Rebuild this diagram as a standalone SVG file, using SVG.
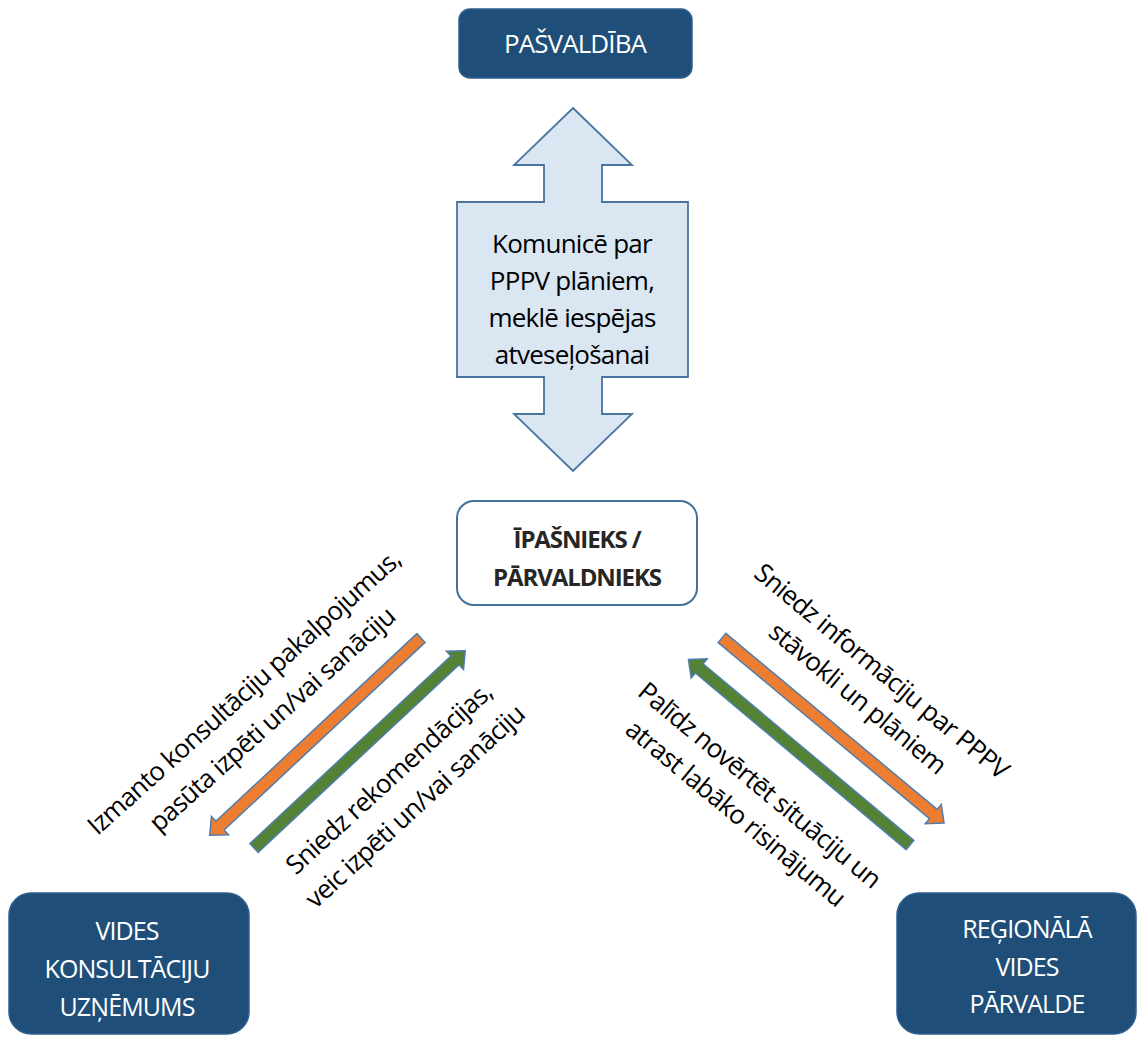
<svg xmlns="http://www.w3.org/2000/svg" xmlns:xlink="http://www.w3.org/1999/xlink" width="1138" height="1041" viewBox="0 0 1138 1041">
  <defs>
    <style>
      .dark { fill: #1F4E79; stroke: #2F5F8F; stroke-width: 1.5; }
      .light { fill: #FFFFFF; stroke: #41719C; stroke-width: 2; }
      .wtxt { font-family: "Open Sans", "Noto Sans", sans-serif; font-size: 25px; letter-spacing: -0.9px; fill: #FFFFFF; text-anchor: middle; }
      .btxt { font-family: "Open Sans", "Noto Sans", sans-serif; font-size: 24px; letter-spacing: -1.1px; font-weight: bold; fill: #262626; text-anchor: middle; }
      .ltxt { font-family: "Open Sans", "Noto Sans", sans-serif; font-size: 26px; letter-spacing: -0.75px; fill: #000000; text-anchor: middle; }
      .dbl { fill: #DAE6F2; stroke: #4A73A0; stroke-width: 1.8; stroke-linejoin: miter; }
      .orange { fill: #ED7D31; stroke: #4F7DAF; stroke-width: 1.5; }
      .green { fill: #548235; stroke: #4F7DAF; stroke-width: 1.5; }
    </style>
    <path id="arr" d="M0,-6 H275 V-12.5 L289,0 L275,12.5 V6 H0 Z"/>
  </defs>
  <rect width="1138" height="1041" fill="#FFFFFF"/>

  <g id="connectors">
    <g id="link-pasvaldiba">
      <path class="dbl" d="M573,108 L632,165 L602,165 L602,202 L688,202 L688,377 L602,377 L602,414 L632,414 L573,471 L514,414 L544,414 L544,377 L457,377 L457,202 L544,202 L544,165 L514,165 Z"/>
      <text class="ltxt" x="572" y="253">Komunicē par</text>
      <text class="ltxt" x="572" y="290">PPPV plāniem,</text>
      <text class="ltxt" x="572" y="327">meklē iespējas</text>
      <text class="ltxt" x="572" y="364">atveseļošanai</text>
    </g>
    <g id="link-konsult">
      <use xlink:href="#arr" href="#arr" class="orange" transform="translate(421,638) rotate(136.97)"/>
      <use xlink:href="#arr" href="#arr" class="green" transform="translate(254,848) rotate(-43.04)"/>
      <text class="ltxt" transform="translate(250,699) rotate(-42)">Izmanto konsultāciju pakalpojumus,</text>
      <text class="ltxt" transform="translate(278,726) rotate(-42)">pasūta izpēti un/vai sanāciju</text>
      <text class="ltxt" transform="translate(395,785) rotate(-42.5)">Sniedz rekomendācijas,</text>
      <text class="ltxt" transform="translate(421,813) rotate(-42.5)">veic izpēti un/vai sanāciju</text>
    </g>
    <g id="link-regionala">
      <use xlink:href="#arr" href="#arr" class="orange" transform="translate(722,638) rotate(39.8)"/>
      <use xlink:href="#arr" href="#arr" class="green" transform="translate(910,845) rotate(219.96)"/>
      <text class="ltxt" transform="translate(876,678) rotate(39.6)">Sniedz informāciju par PPPV</text>
      <text class="ltxt" transform="translate(852,705) rotate(39.6)">stāvokli un plāniem</text>
      <text class="ltxt" transform="translate(754,792) rotate(39.6)">Palīdz novērtēt situāciju un</text>
      <text class="ltxt" transform="translate(730,820) rotate(39.6)">atrast labāko risinājumu</text>
    </g>
  </g>

  <g id="node-pasvaldiba">
    <rect class="dark" x="459" y="9" width="233" height="69" rx="11"/>
    <text class="wtxt" x="575" y="53" style="font-size:26px">PAŠVALDĪBA</text>
  </g>

  <g id="node-ipasnieks">
    <rect class="light" x="457" y="501" width="240" height="104" rx="17"/>
    <text class="btxt" x="577" y="548">ĪPAŠNIEKS /</text>
    <text class="btxt" x="577" y="586">PĀRVALDNIEKS</text>
  </g>

  <g id="node-konsult">
    <rect class="dark" x="9" y="893" width="240" height="141" rx="22"/>
    <text class="wtxt" x="127" y="940">VIDES</text>
    <text class="wtxt" x="127" y="978">KONSULTĀCIJU</text>
    <text class="wtxt" x="127" y="1016">UZŅĒMUMS</text>
  </g>

  <g id="node-regionala">
    <rect class="dark" x="897" y="893" width="239" height="141" rx="22"/>
    <text class="wtxt" x="1027" y="938">REĢIONĀLĀ</text>
    <text class="wtxt" x="1027" y="976">VIDES</text>
    <text class="wtxt" x="1027" y="1013">PĀRVALDE</text>
  </g>
</svg>
